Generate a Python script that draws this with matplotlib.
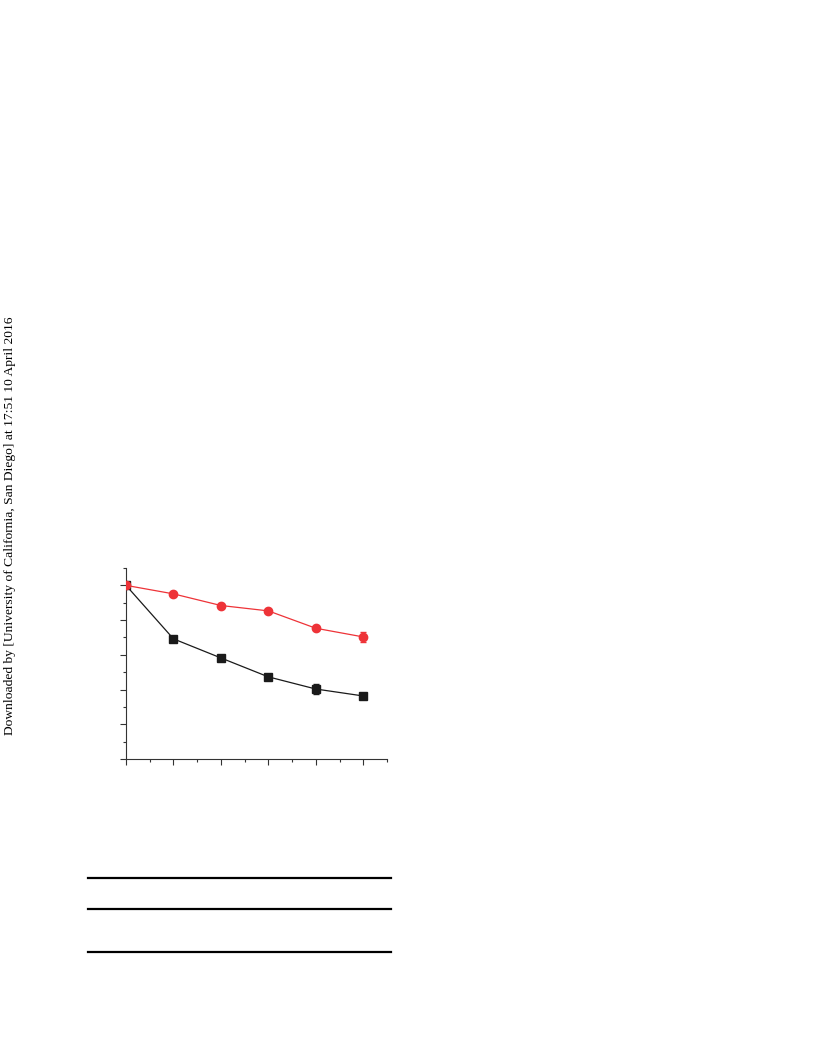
import matplotlib
matplotlib.use("Agg")
import matplotlib.pyplot as plt
from matplotlib.lines import Line2D

x = [0, 1, 2, 3, 4, 5]
red_y = [100, 95.1, 88.4, 85.3, 75.3, 70.3]
red_err = [0.8, 1.2, 0.8, 1.2, 1.2, 2.8]
black_y = [100, 69.2, 58.2, 47.3, 40.3, 36.3]
black_err = [0.8, 1.2, 0.8, 1.2, 2.8, 1.2]

side_text = "Downloaded by [University of California, San Diego] at 17:51 10 April 2016"

W, H = 816, 1056
fig = plt.figure(figsize=(W / 100, H / 100), dpi=100)

# axes box in pixels: left 126, right 387, top 568, bottom 759
ax = fig.add_axes([126 / W, (H - 759) / H, (387 - 126) / W, (759 - 568) / H])

ax.errorbar(x, black_y, yerr=black_err, color='#1a1a1a', marker='s', markersize=5.5,
            linewidth=0.9, elinewidth=0.9, capsize=2, zorder=3)
ax.errorbar(x, red_y, yerr=red_err, color='#ee3338', marker='o', markersize=6,
            linewidth=0.9, elinewidth=0.9, capsize=2, zorder=4)

ax.set_xlim(0, 5.48)
ax.set_ylim(0, 110)
ax.set_xticks([0, 1, 2, 3, 4, 5])
ax.set_xticks([0.5, 1.5, 2.5, 3.5, 4.5, 5.5], minor=True)
ax.set_yticks([0, 20, 40, 60, 80, 100])
ax.set_yticks([10, 30, 50, 70, 90, 110], minor=True)
ax.tick_params(which='major', direction='out', length=4, width=0.8, color='#333333',
               labelbottom=False, labelleft=False)
ax.tick_params(which='minor', direction='out', length=2, width=0.8, color='#333333')
ax.spines['top'].set_visible(False)
ax.spines['right'].set_visible(False)
ax.spines['left'].set_color('#333333')
ax.spines['bottom'].set_color('#333333')
ax.spines['left'].set_linewidth(0.8)
ax.spines['bottom'].set_linewidth(0.8)

# table rules below the chart
for yy in [878, 909, 952]:
    fig.add_artist(Line2D([88 / W, 391 / W], [(H - yy) / H, (H - yy) / H],
                          color='black', linewidth=1.6))

fig.text(10 / W, 530 / H, side_text, rotation=90, ha='center', va='center',
         family='Liberation Serif', fontsize=9.7, color='black')

fig.savefig('out.png', dpi=100)
